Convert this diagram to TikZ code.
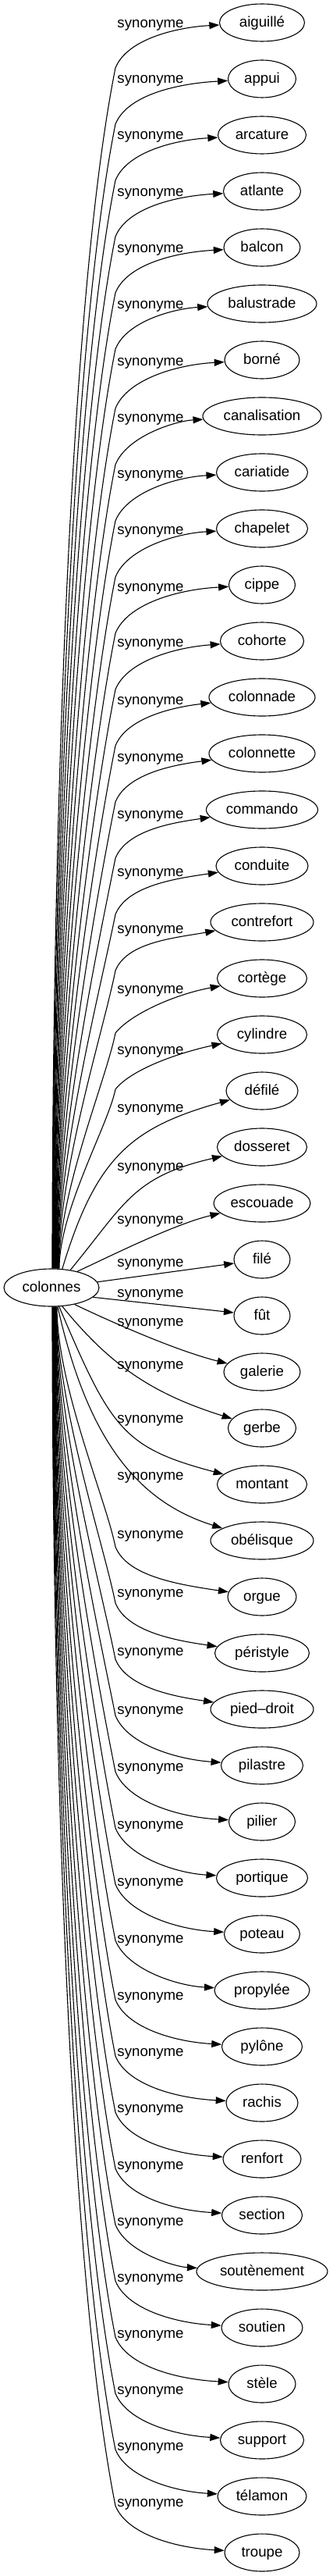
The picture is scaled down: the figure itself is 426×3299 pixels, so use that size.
\documentclass[tikz,border=0pt]{standalone}
\usepackage{fontspec}
\setmainfont{Liberation Sans}
\usetikzlibrary{arrows.meta,shapes.geometric,calc}
\tikzset{
  tn/.style={ellipse, draw, line width=1.1pt, minimum height=48pt, inner sep=0pt,
    text height=14pt, text depth=3pt, font=\fontsize{18.67pt}{22pt}\selectfont},
  lab/.style={inner sep=0pt, text height=14pt, text depth=3pt,
    font=\fontsize{18.67pt}{22pt}\selectfont},
  edge/.style={line width=1.1pt, -{Triangle[length=13pt,width=9pt]}},
}
% #1 index, #2 xshift at start, #3 bend offset, #4 end control offset, #5/#6 bend control
\newcommand\upedge[6]{%
  \pgfmathsetmacro\yi{29+72*#1}%
  \pgfmathsetmacro\By{\yi+#3}%
  \pgfmathsetmacro\Ll{1626-\By}%
  \draw[edge] ([xshift=#2pt]colonnes.north) .. controls ({66+#2},{1626-0.33*\Ll}) and ({148-0.04*\Ll},{\By+0.2*\Ll}) .. (148,\By)
     .. controls ({148+#5},{\By-#6}) and (226,{\yi+#4}) .. (t#1);}
\newcommand\downedge[6]{%
  \pgfmathsetmacro\yi{29+72*#1}%
  \pgfmathsetmacro\By{\yi-#3}%
  \pgfmathsetmacro\Ll{\By-1673}%
  \draw[edge] ([xshift=#2pt]colonnes.south) .. controls ({66+#2},{1673+0.33*\Ll}) and ({148-0.04*\Ll},{\By-0.2*\Ll}) .. (148,\By)
     .. controls ({148+#5},{\By+#6}) and (226,{\yi-#4}) .. (t#1);}
\begin{document}
\begin{tikzpicture}[x=1pt,y=-1pt]
\useasboundingbox (0,0) rectangle (426,3299);
\node[tn, minimum width=122pt] (colonnes) at (66,1649) {colonnes};
\foreach \i/\w/\t in {0/109/aiguillé, 1/87/appui, 2/113/arcature, 3/99/atlante, 4/98/balcon,
  5/140/balustrade, 6/96/borné, 7/152/canalisation, 8/117/cariatide, 9/117/chapelet,
  10/85/cippe, 11/107/cohorte, 12/136/colonnade, 13/136/colonnette, 14/143/commando,
  15/118/conduite, 16/132/contrefort, 17/115/cortège, 18/115/cylindre, 19/92/défilé,
  20/115/dosseret, 21/124/escouade, 22/72/filé, 23/72/fût, 24/98/galerie, 25/87/gerbe,
  26/115/montant, 27/132/obélisque, 28/88/orgue, 29/121/péristyle, 30/132/pied–droit,
  31/105/pilastre, 32/85/pilier, 33/117/portique, 34/97/poteau, 35/122/propylée,
  36/103/pylône, 37/92/rachis, 38/100/renfort, 39/103/section, 40/168/soutènement,
  41/104/soutien, 42/86/stèle, 43/107/support, 44/114/télamon, 45/96/troupe}
  \node[tn, minimum width=\w pt] (t\i) at (336,{29+72*\i}) {\t};
\foreach \i/\o in {0/1,1/0,2/0,3/1,4/1,5/1,6/2,7/2,8/2,9/2,10/3,11/2,12/4,13/5,14/6,15/8,
  16/9,17/14,18/20,19/22,20/25,21/21,22/4,23/-29,24/-64,25/-81,26/-84,27/-83,28/-80,
  29/-77,30/-74,31/-71,32/-70,33/-68,34/-67,35/-66,36/-65,37/-65,38/-65,39/-64,40/-64,
  41/-64,42/-64,43/-64,44/-64,45/-64}
  \node[lab] (l\i) at (193,{29+72*\i+(\o)}) {synonyme};
% upper edges
\upedge{0}{1}{58}{6}{15}{37}
\upedge{1}{1.5}{58}{6}{15}{37}
\upedge{2}{2}{58}{6}{15}{37}
\upedge{3}{2.5}{58}{6}{15}{37}
\upedge{4}{3}{58}{6}{15}{37}
\upedge{5}{3.5}{58}{6}{15}{37}
\upedge{6}{4}{62}{6}{15}{37}
\upedge{7}{4.5}{62}{6}{15}{37}
\upedge{8}{5}{62}{6}{15}{37}
\upedge{9}{5.5}{62}{6}{15}{37}
\upedge{10}{6}{62}{6}{15}{37}
\upedge{11}{6.5}{62}{8}{15}{37}
\upedge{12}{7}{62}{12}{15}{37}
\upedge{13}{7.5}{62}{14}{15}{37}
\upedge{14}{8}{62}{16}{15}{37}
\upedge{15}{8.5}{62}{16}{15}{37}
\upedge{16}{9}{62}{20}{15}{37}
\upedge{17}{9.5}{70}{20}{20}{25}
\upedge{18}{10}{70}{24}{20}{25}
% middle edges
\draw[edge] (colonnes.60) .. controls (123,1482) and (168,1444) .. (t19);
\draw[edge] (colonnes.43) .. controls (160,1542) and (170,1507) .. (t20);
\draw[edge] (colonnes.32) .. controls (143.5,1607.6) and (224,1567.6) .. (t21);
\draw[edge] (colonnes.7) -- (t22);
\draw[edge] (colonnes.-13) -- (t23);
\draw[edge] (colonnes.-36) .. controls (149,1696) and (230,1731) .. (t24);
\draw[edge] (colonnes.-60) .. controls (143,1751) and (199,1786) .. (t25);
\draw[edge] (colonnes.-68) .. controls (142,1829) and (157,1854) .. (t26);
\draw[edge] ([xshift=8pt]colonnes.south) .. controls (113,1848) and (179,1924) .. (t27);
% lower edges
\downedge{28}{7}{64}{16}{15}{37}
\downedge{29}{6.6}{64}{16}{15}{37}
\downedge{30}{6.3}{64}{16}{15}{37}
\downedge{31}{5.9}{64}{8}{15}{37}
\downedge{32}{5.6}{64}{6}{15}{37}
\downedge{33}{5.2}{64}{6}{15}{37}
\downedge{34}{4.9}{64}{6}{15}{37}
\downedge{35}{4.5}{64}{6}{15}{37}
\downedge{36}{4.2}{60}{6}{15}{37}
\downedge{37}{3.8}{60}{6}{15}{37}
\downedge{38}{3.5}{60}{6}{15}{37}
\downedge{39}{3.1}{60}{6}{15}{37}
\downedge{40}{2.8}{60}{6}{15}{37}
\downedge{41}{2.4}{60}{6}{15}{37}
\downedge{42}{2.1}{60}{6}{15}{37}
\downedge{43}{1.7}{60}{6}{15}{37}
\downedge{44}{1.4}{60}{6}{15}{37}
\downedge{45}{1}{60}{6}{15}{37}
\end{tikzpicture}
\end{document}
